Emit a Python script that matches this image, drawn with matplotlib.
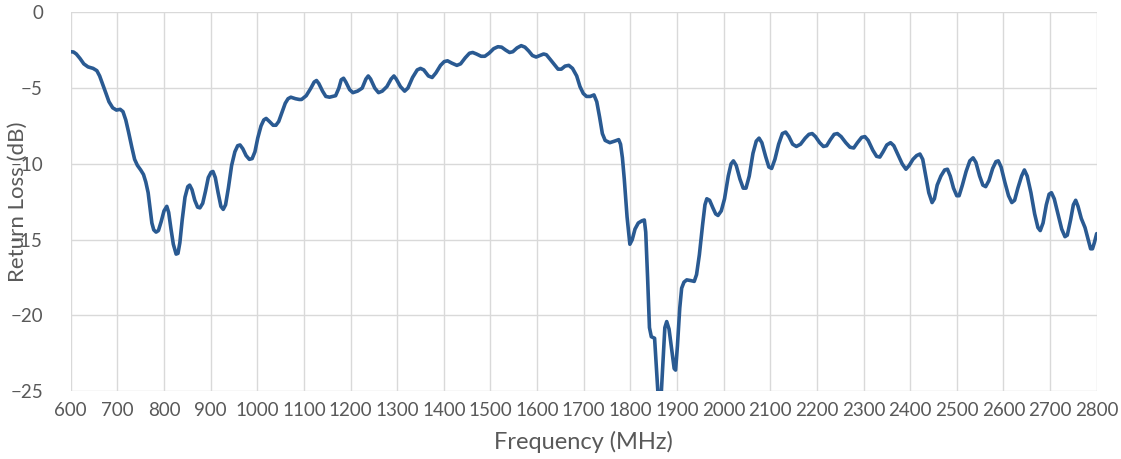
import matplotlib
matplotlib.use("Agg")
import matplotlib.pyplot as plt

# ── Data ─────────────────────────────────────────────────
freq_mhz = [
    600, 606, 612, 620, 628, 637, 648, 656, 662, 668, 675, 682, 690, 698, 706, 712, 718, 724,
    731, 737, 743, 750, 756, 761, 766, 770, 774, 778, 783, 788, 794, 800, 806, 810, 815, 820,
    826, 830, 834, 839, 845, 851, 855, 860, 866, 872, 877, 883, 889, 895, 901, 905, 910, 916,
    922, 927, 932, 938, 945, 952, 958, 963, 969, 976, 983, 989, 995, 1001, 1008, 1014, 1019,
    1026, 1034, 1040, 1046, 1053, 1060, 1066, 1072, 1082, 1090, 1095, 1105, 1115, 1122, 1127,
    1132, 1140, 1147, 1155, 1168, 1175, 1180, 1185, 1190, 1198, 1205, 1215, 1225, 1233, 1238,
    1243, 1252, 1260, 1268, 1278, 1287, 1293, 1298, 1307, 1316, 1323, 1333, 1343, 1350, 1357,
    1367, 1375, 1383, 1393, 1401, 1408, 1417, 1428, 1436, 1446, 1455, 1462, 1470, 1480, 1488,
    1497, 1507, 1516, 1524, 1533, 1541, 1548, 1557, 1566, 1574, 1582, 1590, 1598, 1606, 1614,
    1620, 1628, 1637, 1645, 1652, 1660, 1668, 1676, 1685, 1692, 1699, 1706, 1714, 1722, 1728,
    1734, 1740, 1746, 1756, 1766, 1775, 1779, 1783, 1787, 1793, 1799, 1804, 1810, 1817, 1825,
    1830, 1833, 1837, 1841, 1845, 1852, 1863, 1874, 1878, 1883, 1889, 1894, 1897, 1901, 1906,
    1910, 1915, 1921, 1930, 1937, 1942, 1948, 1955, 1960, 1964, 1970, 1977, 1983, 1988, 1995,
    2002, 2010, 2016, 2021, 2027, 2035, 2042, 2048, 2055, 2063, 2070, 2076, 2082, 2090, 2097,
    2103, 2110, 2118, 2126, 2133, 2140, 2148, 2156, 2165, 2175, 2183, 2190, 2197, 2206, 2214,
    2221, 2229, 2237, 2244, 2252, 2262, 2271, 2279, 2287, 2296, 2303, 2310, 2320, 2328, 2335,
    2342, 2350, 2358, 2365, 2374, 2383, 2391, 2398, 2406, 2414, 2421, 2427, 2433, 2440, 2447,
    2452, 2458, 2466, 2474, 2480, 2486, 2493, 2500, 2505, 2512, 2520, 2528, 2535, 2541, 2549,
    2556, 2562, 2569, 2577, 2584, 2589, 2595, 2603, 2611, 2618, 2624, 2631, 2639, 2645, 2651,
    2659, 2667, 2674, 2679, 2685, 2692, 2698, 2703, 2709, 2717, 2725, 2732, 2737, 2744, 2750,
    2755, 2760, 2767, 2775, 2781, 2787, 2791, 2795, 2800]
return_loss_db = [
    -2.6, -2.62, -2.75, -3.05, -3.4, -3.6, -3.7, -3.85, -4.2, -4.7, -5.3, -5.9, -6.3, -6.45,
    -6.4, -6.55, -7.1, -7.9, -8.9, -9.7, -10.1, -10.4, -10.7, -11.2, -11.9, -12.9, -13.9,
    -14.35, -14.5, -14.4, -13.8, -13.1, -12.8, -13.2, -14.3, -15.3, -15.95, -15.9, -15.2,
    -13.7, -12.2, -11.5, -11.4, -11.7, -12.4, -12.85, -12.9, -12.6, -11.8, -10.9, -10.55,
    -10.5, -10.9, -11.9, -12.8, -13.0, -12.7, -11.6, -10.1, -9.2, -8.8, -8.75, -9.0, -9.45,
    -9.7, -9.65, -9.2, -8.3, -7.5, -7.1, -7.0, -7.2, -7.45, -7.45, -7.2, -6.6, -6.0, -5.7,
    -5.6, -5.7, -5.75, -5.75, -5.5, -5.0, -4.6, -4.5, -4.7, -5.2, -5.55, -5.6, -5.5, -5.0,
    -4.45, -4.35, -4.6, -5.1, -5.3, -5.2, -5.0, -4.4, -4.2, -4.4, -5.0, -5.3, -5.2, -4.9,
    -4.4, -4.2, -4.4, -4.9, -5.2, -5.0, -4.3, -3.8, -3.7, -3.8, -4.2, -4.3, -4.0, -3.5,
    -3.25, -3.2, -3.35, -3.5, -3.4, -3.0, -2.7, -2.65, -2.75, -2.9, -2.9, -2.7, -2.4, -2.27,
    -2.3, -2.5, -2.65, -2.6, -2.35, -2.2, -2.3, -2.55, -2.85, -2.95, -2.85, -2.75, -2.8,
    -3.1, -3.45, -3.75, -3.75, -3.55, -3.5, -3.7, -4.2, -4.9, -5.35, -5.55, -5.55, -5.45,
    -5.9, -6.9, -8.0, -8.45, -8.6, -8.5, -8.4, -8.7, -9.6, -11.0, -13.5, -15.3, -15.0,
    -14.3, -13.9, -13.75, -13.7, -14.5, -17.5, -20.8, -21.4, -21.5, -27.0, -20.8, -20.4,
    -20.9, -22.3, -23.5, -23.6, -22.0, -19.5, -18.2, -17.8, -17.65, -17.7, -17.75, -17.3,
    -16.0, -14.0, -12.7, -12.3, -12.4, -12.9, -13.3, -13.4, -13.1, -12.3, -10.8, -10.0,
    -9.8, -10.1, -11.0, -11.6, -11.6, -10.8, -9.3, -8.5, -8.3, -8.6, -9.5, -10.2, -10.3,
    -9.7, -8.7, -8.0, -7.9, -8.2, -8.7, -8.85, -8.7, -8.3, -8.05, -8.0, -8.2, -8.6, -8.85,
    -8.8, -8.4, -8.05, -8.0, -8.2, -8.6, -8.9, -8.95, -8.6, -8.25, -8.2, -8.45, -9.1, -9.5,
    -9.55, -9.2, -8.75, -8.6, -8.8, -9.4, -10.0, -10.35, -10.1, -9.7, -9.45, -9.35, -9.7,
    -10.7, -11.9, -12.55, -12.3, -11.4, -10.8, -10.4, -10.35, -10.8, -11.6, -12.1, -12.1,
    -11.4, -10.5, -9.8, -9.6, -9.9, -10.8, -11.4, -11.5, -11.1, -10.3, -9.85, -9.8, -10.2,
    -11.2, -12.1, -12.55, -12.4, -11.6, -10.8, -10.4, -10.8, -11.9, -13.3, -14.2, -14.4,
    -13.9, -12.7, -12.0, -11.9, -12.3, -13.3, -14.3, -14.8, -14.7, -13.7, -12.7, -12.4,
    -12.8, -13.6, -14.2, -14.9, -15.6, -15.6, -15.2, -14.6]

x_ticks = list(range(600, 2801, 100))
y_ticks = [0, -5, -10, -15, -20, -25]

# ── Style ────────────────────────────────────────────────
plt.rcParams["font.family"] = ["Lato", "DejaVu Sans"]
LINE_COLOR = "#2A5A92"
TEXT_COLOR = "#595959"
GRID_COLOR = "#D9D9D9"

fig = plt.figure(figsize=(11.21, 4.59), dpi=100)
ax = fig.add_axes([0.0631, 0.1475, 0.9152, 0.8257])

ax.plot(freq_mhz, return_loss_db, color=LINE_COLOR, linewidth=2.6,
        solid_joinstyle="round", solid_capstyle="round")

ax.set_xlim(600, 2800)
ax.set_ylim(-25, 0)
ax.set_xticks(x_ticks)
ax.set_yticks(y_ticks)
ax.grid(True, color=GRID_COLOR, linewidth=1.0)
ax.set_axisbelow(True)
for s in ax.spines.values():
    s.set_visible(False)

ax.tick_params(axis="both", length=0, colors=TEXT_COLOR, labelsize=13.5)
ax.tick_params(axis="x", pad=8)
ax.tick_params(axis="y", pad=20)

ax.set_xlabel("Frequency (MHz)", fontsize=17, color=TEXT_COLOR, labelpad=8)
ax.set_ylabel("Return Loss (dB)", fontsize=16, color=TEXT_COLOR)
ax.yaxis.set_label_coords(-0.042, 0.5)

fig.savefig("out.png", dpi=100)
plt.close(fig)
